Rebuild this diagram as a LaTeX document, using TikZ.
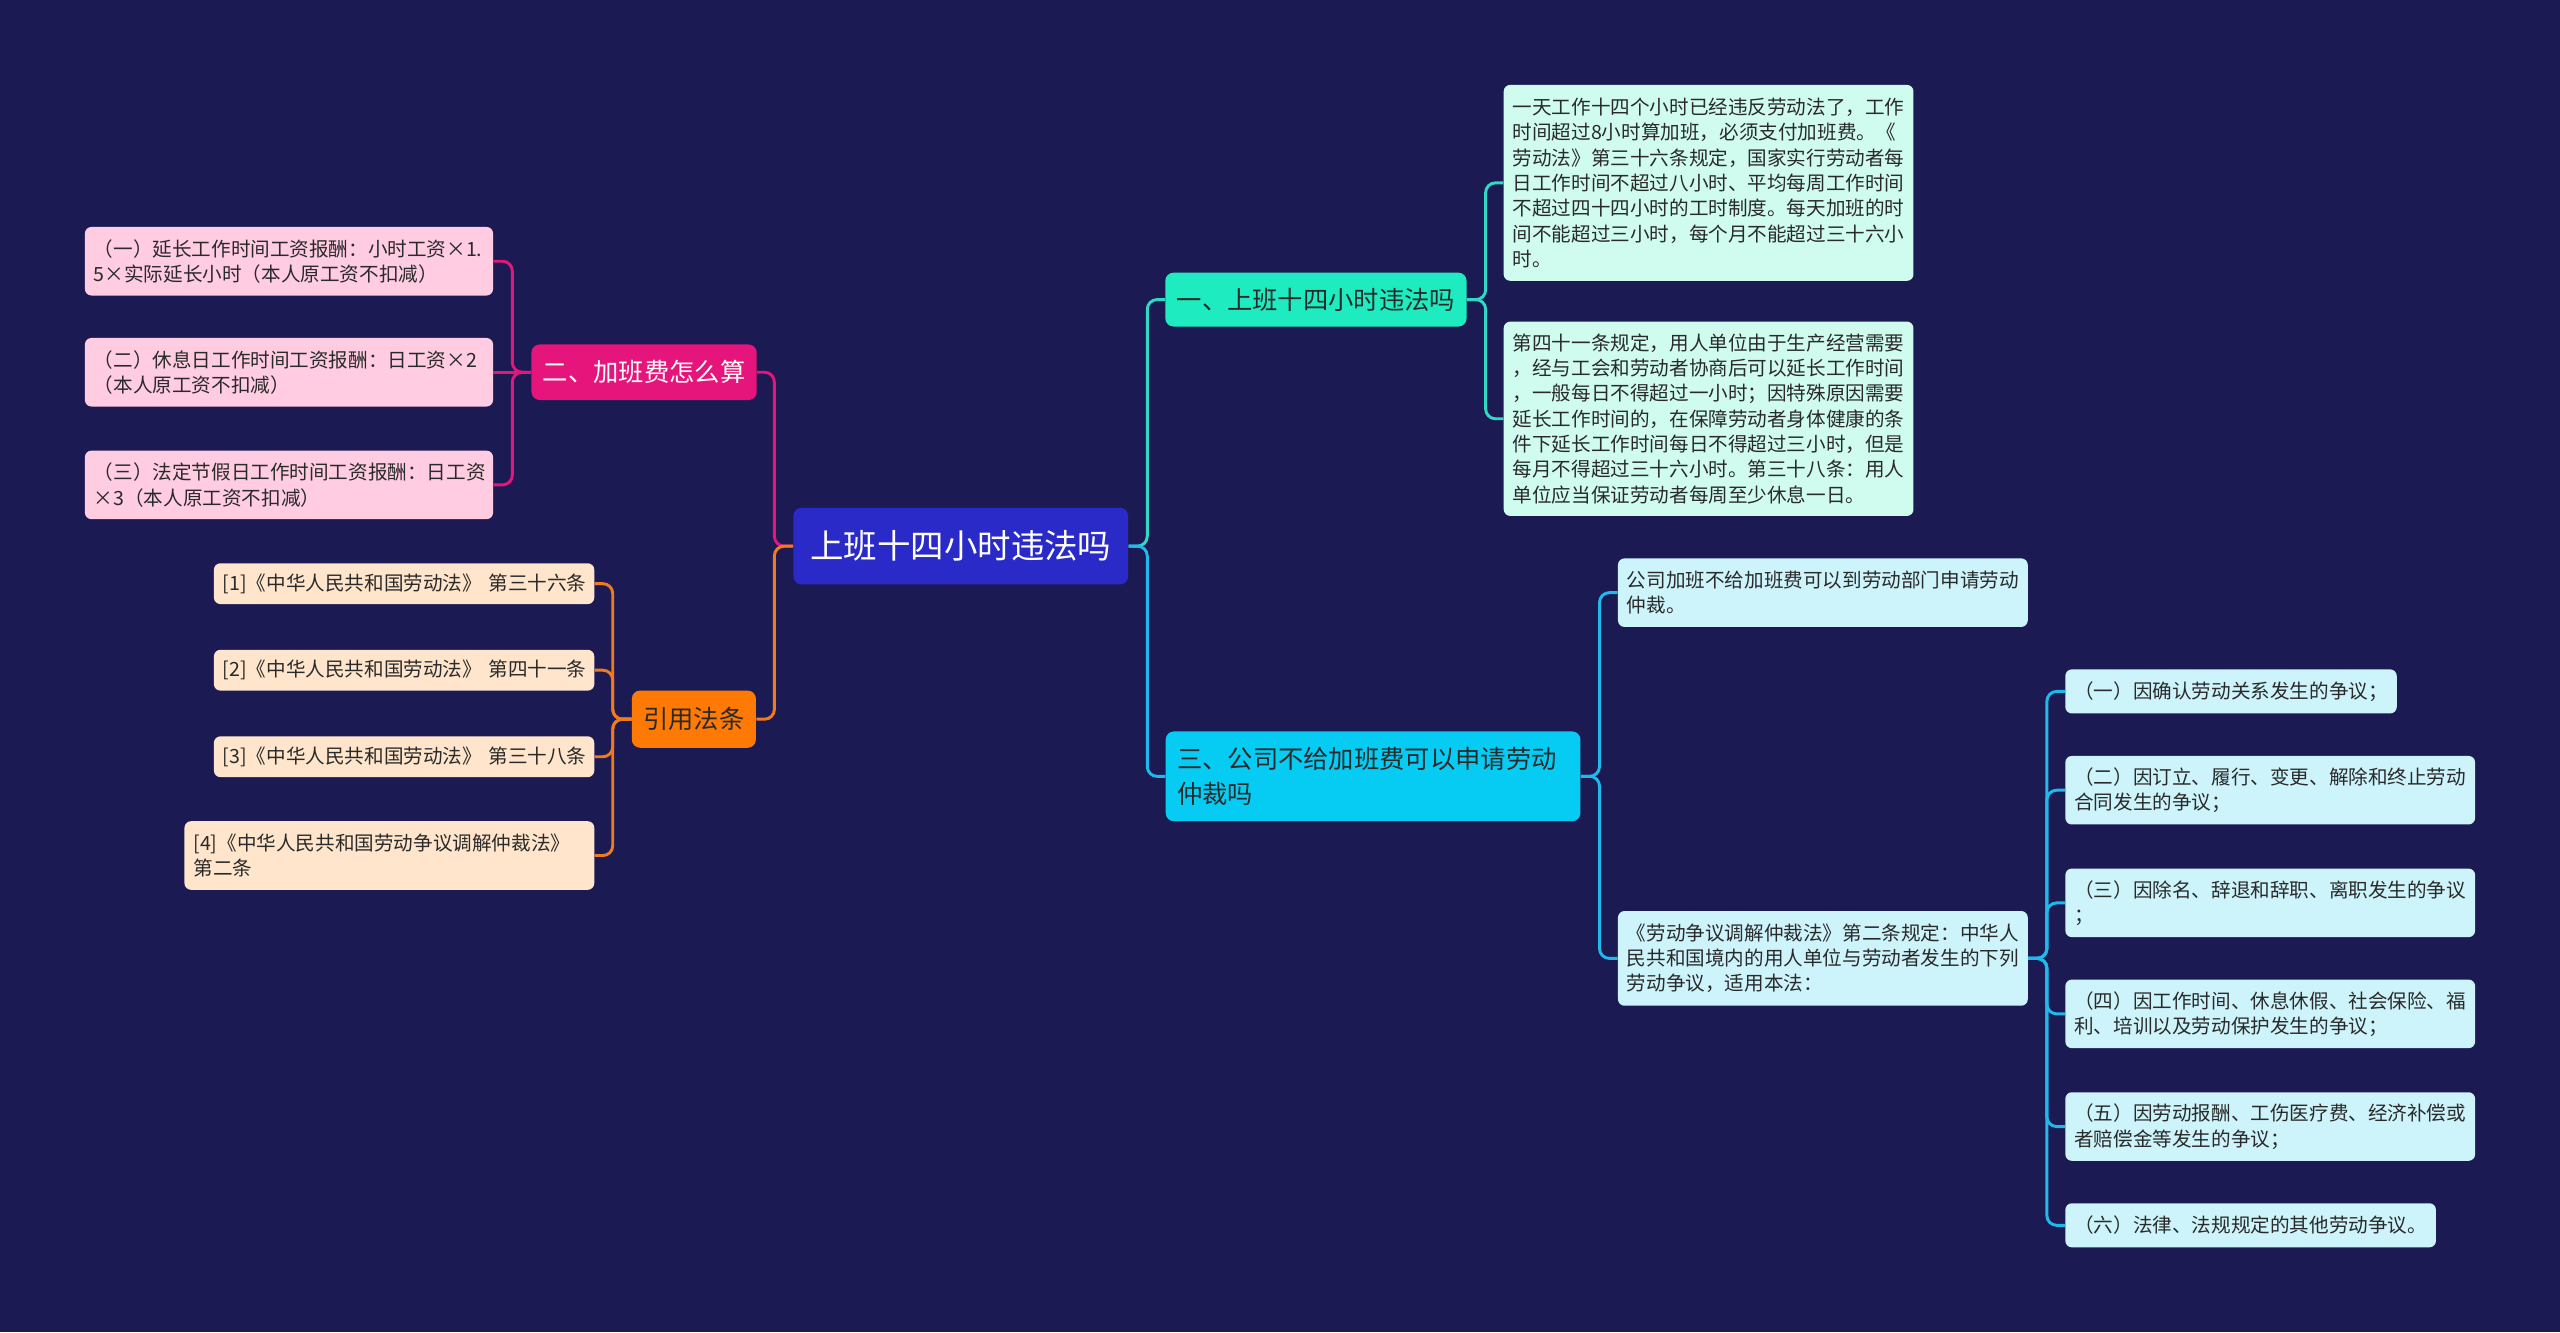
\documentclass[tikz,border=0pt]{standalone}
\usepackage{fontspec}
\setmainfont{Noto Sans CJK SC}
\usepackage{tikz}
\definecolor{bgnavy}{HTML}{1B1A52}
\definecolor{rootblue}{HTML}{2A2AC8}
\definecolor{aqua}{HTML}{1EEBBF}
\definecolor{mint}{HTML}{CFFCEF}
\definecolor{skyfill}{HTML}{06CCF4}
\definecolor{icecyan}{HTML}{CDF3FB}
\definecolor{rose}{HTML}{E5157B}
\definecolor{pinkfill}{HTML}{FFCCE2}
\definecolor{amber}{HTML}{FF7A05}
\definecolor{peach}{HTML}{FFE5CB}
\definecolor{inkdark}{HTML}{2A2A2A}
\definecolor{tealline}{HTML}{2FD9C4}
\definecolor{cyanline}{HTML}{1FB9EC}
\definecolor{roseline}{HTML}{E0187C}
\definecolor{amberline}{HTML}{F27A1E}
\tikzset{box/.style={rounded corners=4pt,inner xsep=5.5pt,inner ysep=2pt,align=left,text=inkdark,font=\fontsize{12}{15.5}\selectfont},
  topic/.style={rounded corners=5pt,inner xsep=7pt,inner ysep=2pt,text=inkdark,font=\fontsize{15.5}{21}\selectfont},
  link/.style={line width=1.8pt,rounded corners=6pt}}

\begin{document}
\begin{tikzpicture}[x=1pt,y=-1pt]
\fill[bgnavy] (0,0) rectangle (1568,816);
% centre and main topics
\node[topic,fill=rootblue,text=white,font=\fontsize{20.5}{24}\selectfont,minimum width=205pt,minimum height=47pt] (root) at (588.5,334.5) {上班十四小时违法吗};
\node[topic,fill=aqua,minimum width=184pt,minimum height=33pt] (b1) at (806,183.5) {一、上班十四小时违法吗};
\node[topic,fill=skyfill,align=left,text width=240pt,minimum height=55pt] (b3) at (841,475.5) {三、公司不给加班费可以申请劳动\\仲裁吗};
\node[topic,fill=rose,text=white,minimum width=137pt,minimum height=34pt] (b2) at (394.5,228) {二、加班费怎么算};
\node[topic,fill=amber,minimum width=76pt,minimum height=35pt] (b4) at (425,440.5) {引用法条};
% right side
\node[box,fill=mint,text width=240pt,minimum height=120pt] (b1a) at (1046.5,112) {一天工作十四个小时已经违反劳动法了，工作\\时间超过8小时算加班，必须支付加班费。《\\劳动法》第三十六条规定，国家实行劳动者每\\日工作时间不超过八小时、平均每周工作时间\\不超过四十四小时的工时制度。每天加班的时\\间不能超过三小时，每个月不能超过三十六小\\时。};
\node[box,fill=mint,text width=240pt,minimum height=119pt] (b1b) at (1046.5,256.5) {第四十一条规定，用人单位由于生产经营需要\\，经与工会和劳动者协商后可以延长工作时间\\，一般每日不得超过一小时；因特殊原因需要\\延长工作时间的，在保障劳动者身体健康的条\\件下延长工作时间每日不得超过三小时，但是\\每月不得超过三十六小时。第三十八条：用人\\单位应当保证劳动者每周至少休息一日。};
\node[box,fill=icecyan,text width=240pt,minimum height=42pt] (b3a) at (1116.5,363) {公司加班不给加班费可以到劳动部门申请劳动\\仲裁。};
\node[box,fill=icecyan,text width=240pt,minimum height=58pt] (b3b) at (1116.5,587) {《劳动争议调解仲裁法》第二条规定：中华人\\民共和国境内的用人单位与劳动者发生的下列\\劳动争议，适用本法：};
\node[box,fill=icecyan,text width=192pt,minimum height=27pt] (s1) at (1366.5,423.5) {（一）因确认劳动关系发生的争议；};
\node[box,fill=icecyan,text width=240pt,minimum height=42pt] (s2) at (1390.5,484) {（二）因订立、履行、变更、解除和终止劳动\\合同发生的争议；};
\node[box,fill=icecyan,text width=240pt,minimum height=42pt] (s3) at (1390.5,553) {（三）因除名、辞退和辞职、离职发生的争议\\；};
\node[box,fill=icecyan,text width=240pt,minimum height=42pt] (s4) at (1390.5,621) {（四）因工作时间、休息休假、社会保险、福\\利、培训以及劳动保护发生的争议；};
\node[box,fill=icecyan,text width=240pt,minimum height=42pt] (s5) at (1390.5,690) {（五）因劳动报酬、工伤医疗费、经济补偿或\\者赔偿金等发生的争议；};
\node[box,fill=icecyan,text width=216pt,minimum height=27pt] (s6) at (1378.5,750.5) {（六）法律、法规规定的其他劳动争议。};
% left side
\node[box,fill=pinkfill,text width=239pt,minimum height=42pt] (p1) at (177,160) {（一）延长工作时间工资报酬：小时工资×1.\\5×实际延长小时（本人原工资不扣减）};
\node[box,fill=pinkfill,text width=239pt,minimum height=42pt] (p2) at (177,228) {（二）休息日工作时间工资报酬：日工资×2\\（本人原工资不扣减）};
\node[box,fill=pinkfill,text width=239pt,minimum height=42pt] (p3) at (177,297) {（三）法定节假日工作时间工资报酬：日工资\\×3（本人原工资不扣减）};
\node[box,fill=peach,text width=222pt,minimum height=25pt] (c1) at (247.5,357.5) {[1]《中华人民共和国劳动法》~第三十六条};
\node[box,fill=peach,text width=222pt,minimum height=25pt] (c2) at (247.5,410.5) {[2]《中华人民共和国劳动法》~第四十一条};
\node[box,fill=peach,text width=222pt,minimum height=25pt] (c3) at (247.5,463.5) {[3]《中华人民共和国劳动法》~第三十八条};
\node[box,fill=peach,text width=240pt,minimum height=42pt] (c4) at (238.5,524) {[4]《中华人民共和国劳动争议调解仲裁法》\\第二条};
% connectors
\draw[link,tealline] (root.east) -- ++(11.5,0) |- (b1.west);
\draw[link,cyanline] (root.east) -- ++(11.5,0) |- (b3.west);
\draw[link,roseline] (root.west) -- ++(-11.5,0) |- (b2.east);
\draw[link,amberline] (root.west) -- ++(-11.5,0) |- (b4.east);
\foreach \n in {b1a,b1b} \draw[link,tealline] (b1.east) -- ++(11.5,0) |- (\n.west);
\foreach \n in {b3a,b3b} \draw[link,cyanline] (b3.east) -- ++(11.5,0) |- (\n.west);
\foreach \n in {s1,s2,s3,s4,s5,s6} \draw[link,cyanline] (b3b.east) -- ++(11.5,0) |- (\n.west);
\foreach \n in {p1,p3} \draw[link,roseline] (b2.west) -- ++(-11.5,0) |- (\n.east);
\draw[link,roseline] (b2.west) -- (p2.east);
\foreach \n in {c1,c2,c3,c4} \draw[link,amberline] (b4.west) -- ++(-11.5,0) |- (\n.east);
\end{tikzpicture}
\end{document}
